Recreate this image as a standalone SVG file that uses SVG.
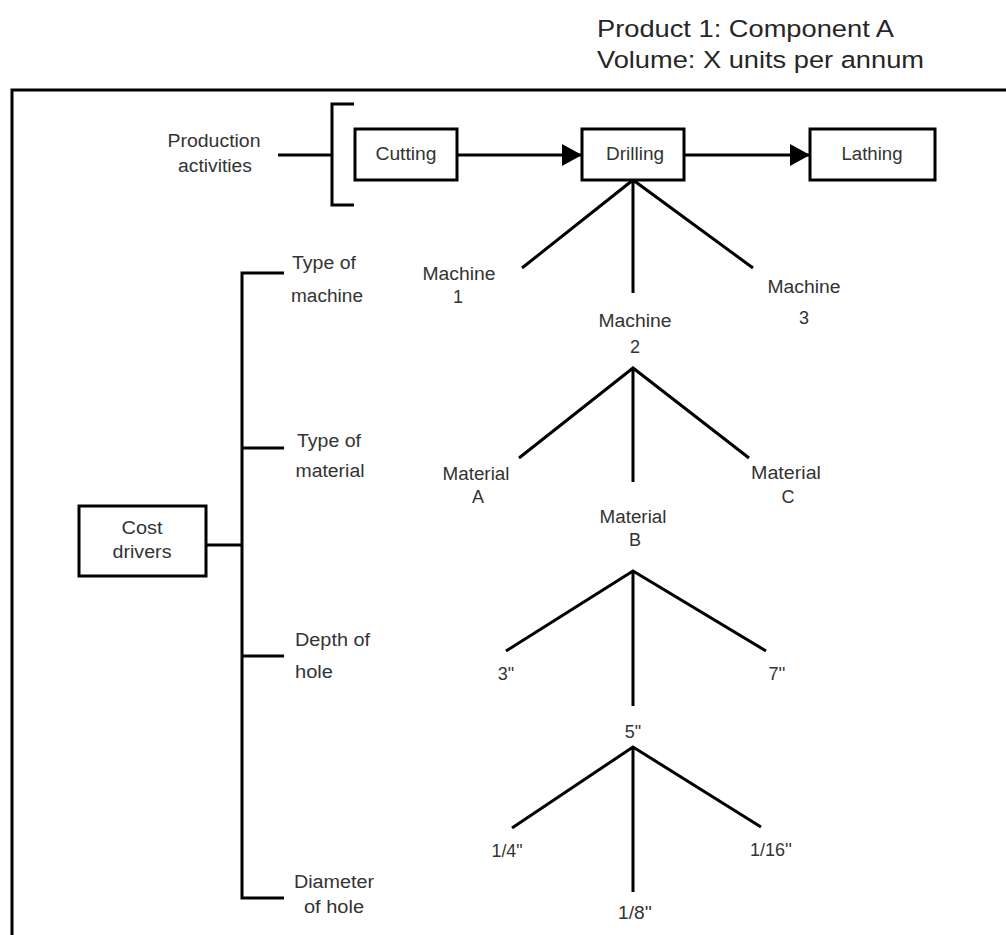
<svg xmlns="http://www.w3.org/2000/svg" width="1006" height="935" viewBox="0 0 1006 935">
  <style>
    text { font-family: "Liberation Sans", Arial, sans-serif; fill: #333333; }
    .lbl { font-size: 18px; }
    .mid { text-anchor: middle; }
    .hdr { font-size: 24.5px; fill: #262626; }
    .box { fill: #ffffff; stroke: #000; stroke-width: 3; }
    .ln { stroke: #000; stroke-width: 3; fill: none; }
  </style>
  <defs>
    <marker id="arrow" viewBox="0 0 20 22" refX="20" refY="11" markerWidth="20" markerHeight="22" markerUnits="userSpaceOnUse" orient="auto">
      <path d="M0,0 L20,11 L0,22 Z" fill="#000"/>
    </marker>
  </defs>

  <rect width="1006" height="935" fill="#ffffff"/>

  <!-- title -->
  <g id="title">
    <text class="hdr" x="597" y="37" textLength="297" lengthAdjust="spacingAndGlyphs">Product 1: Component A</text>
    <text class="hdr" x="597" y="68" textLength="327" lengthAdjust="spacingAndGlyphs">Volume: X units per annum</text>
  </g>

  <!-- outer frame (runs off the right and bottom edges) -->
  <path class="ln" d="M12,940 V90 H1010"/>

  <!-- connectors -->
  <g id="connectors">
    <!-- production activities bracket -->
    <path class="ln" d="M278,155 H332"/>
    <path class="ln" d="M354,104 H332 V205 H354"/>
    <!-- process flow -->
    <line class="ln" x1="457" y1="155" x2="582" y2="155" marker-end="url(#arrow)"/>
    <line class="ln" x1="684" y1="155" x2="810" y2="155" marker-end="url(#arrow)"/>
    <!-- machine branch -->
    <path class="ln" d="M522,268 L633,180 L753,268 M633,180 V293"/>
    <!-- material branch -->
    <path class="ln" d="M519,458 L633,368 L749,458 M633,368 V482"/>
    <!-- depth branch -->
    <path class="ln" d="M506,651 L633,571 L766,651 M633,571 V706"/>
    <!-- diameter branch -->
    <path class="ln" d="M512,828 L633,747 L761,827 M633,747 V892"/>
    <!-- cost driver spine -->
    <path class="ln" d="M206,545 H242"/>
    <path class="ln" d="M284,273 H242 V898 H284"/>
    <path class="ln" d="M242,448 H284"/>
    <path class="ln" d="M242,656 H284"/>
  </g>

  <!-- production activities label -->
  <g id="production-activities">
    <text class="lbl mid" x="214" y="147" textLength="93" lengthAdjust="spacingAndGlyphs">Production</text>
    <text class="lbl mid" x="215" y="172" textLength="74" lengthAdjust="spacingAndGlyphs">activities</text>
  </g>

  <!-- process boxes -->
  <g id="cutting">
    <rect class="box" x="355" y="129" width="102" height="51"/>
    <text class="lbl mid" x="406" y="160" textLength="61" lengthAdjust="spacingAndGlyphs">Cutting</text>
  </g>
  <g id="drilling">
    <rect class="box" x="582" y="129" width="102" height="51"/>
    <text class="lbl mid" x="635" y="160" textLength="58" lengthAdjust="spacingAndGlyphs">Drilling</text>
  </g>
  <g id="lathing">
    <rect class="box" x="810" y="129" width="125" height="51"/>
    <text class="lbl mid" x="872" y="160" textLength="61" lengthAdjust="spacingAndGlyphs">Lathing</text>
  </g>

  <!-- cost drivers -->
  <g id="cost-drivers">
    <rect class="box" x="79" y="506" width="127" height="70"/>
    <text class="lbl mid" x="142" y="534" textLength="41" lengthAdjust="spacingAndGlyphs">Cost</text>
    <text class="lbl mid" x="142" y="558" textLength="59" lengthAdjust="spacingAndGlyphs">drivers</text>
  </g>
  <g id="type-of-machine">
    <text class="lbl mid" x="324" y="269" textLength="64" lengthAdjust="spacingAndGlyphs">Type of</text>
    <text class="lbl mid" x="327" y="302" textLength="72" lengthAdjust="spacingAndGlyphs">machine</text>
  </g>
  <g id="type-of-material">
    <text class="lbl mid" x="329" y="447" textLength="64" lengthAdjust="spacingAndGlyphs">Type of</text>
    <text class="lbl mid" x="330" y="477" textLength="69" lengthAdjust="spacingAndGlyphs">material</text>
  </g>
  <g id="depth-of-hole">
    <text class="lbl" x="295" y="646" textLength="75" lengthAdjust="spacingAndGlyphs">Depth of</text>
    <text class="lbl" x="295" y="678" textLength="38" lengthAdjust="spacingAndGlyphs">hole</text>
  </g>
  <g id="diameter-of-hole">
    <text class="lbl mid" x="334" y="888" textLength="80" lengthAdjust="spacingAndGlyphs">Diameter</text>
    <text class="lbl mid" x="334" y="913" textLength="60" lengthAdjust="spacingAndGlyphs">of hole</text>
  </g>

  <!-- machine options -->
  <g id="machine-1">
    <text class="lbl mid" x="459" y="280" textLength="73" lengthAdjust="spacingAndGlyphs">Machine</text>
    <text class="lbl mid" x="458" y="303">1</text>
  </g>
  <g id="machine-2">
    <text class="lbl mid" x="635" y="327" textLength="73" lengthAdjust="spacingAndGlyphs">Machine</text>
    <text class="lbl mid" x="635" y="353">2</text>
  </g>
  <g id="machine-3">
    <text class="lbl mid" x="804" y="293" textLength="73" lengthAdjust="spacingAndGlyphs">Machine</text>
    <text class="lbl mid" x="804" y="324">3</text>
  </g>

  <!-- material options -->
  <g id="material-a">
    <text class="lbl mid" x="476" y="480" textLength="67" lengthAdjust="spacingAndGlyphs">Material</text>
    <text class="lbl mid" x="478" y="503">A</text>
  </g>
  <g id="material-b">
    <text class="lbl mid" x="633" y="523" textLength="67" lengthAdjust="spacingAndGlyphs">Material</text>
    <text class="lbl mid" x="635" y="546">B</text>
  </g>
  <g id="material-c">
    <text class="lbl mid" x="786" y="479" textLength="70" lengthAdjust="spacingAndGlyphs">Material</text>
    <text class="lbl mid" x="788" y="503">C</text>
  </g>

  <!-- hole depths -->
  <g id="depth-3">
    <text class="lbl mid" x="506" y="680">3"</text>
  </g>
  <g id="depth-5">
    <text class="lbl mid" x="633" y="738">5"</text>
  </g>
  <g id="depth-7">
    <text class="lbl mid" x="777" y="680">7''</text>
  </g>

  <!-- hole diameters -->
  <g id="diameter-1-4">
    <text class="lbl mid" x="507" y="857" textLength="31" lengthAdjust="spacingAndGlyphs">1/4"</text>
  </g>
  <g id="diameter-1-8">
    <text class="lbl mid" x="635" y="919" textLength="34" lengthAdjust="spacingAndGlyphs">1/8''</text>
  </g>
  <g id="diameter-1-16">
    <text class="lbl mid" x="771" y="856" textLength="42" lengthAdjust="spacingAndGlyphs">1/16''</text>
  </g>
</svg>
